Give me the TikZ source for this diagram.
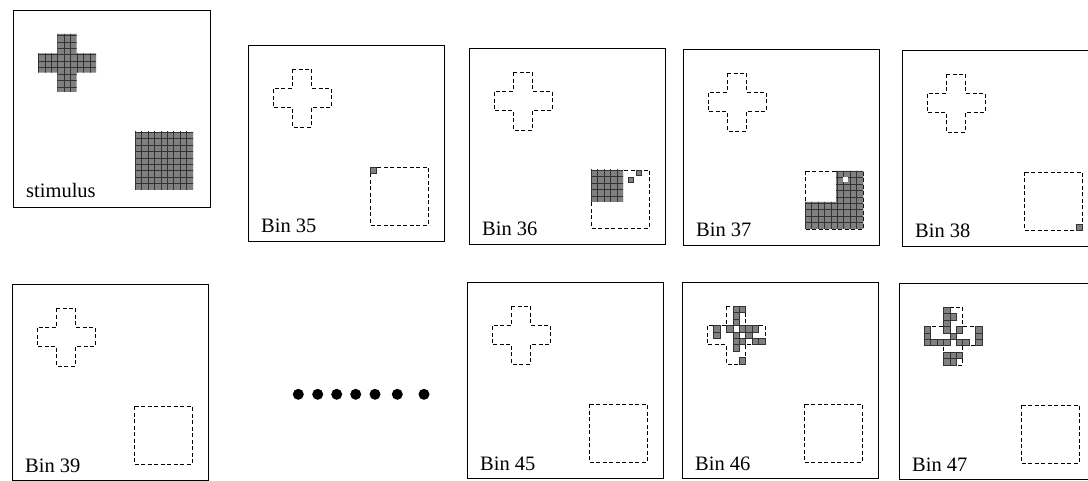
\documentclass[tikz,border=0pt]{standalone}
\usepackage{fontspec}
\setmainfont{Liberation Serif}
\usetikzlibrary{calc}
\definecolor{cellGray}{gray}{0.5}
\newcommand{\cellsize}{6.444}

\tikzset{
    panel/.style={draw, line width=0.9pt, minimum size=196pt, inner sep=0pt},
    binlabel/.style={anchor=base west, inner sep=0pt, font=\fontsize{20.5}{24}\selectfont},
    outline/.style={draw, line width=0.8pt, dash pattern=on 4pt off 2.5pt},
    texture/.style={fill=cellGray, path picture={
        \foreach \g in {-17,...,10} {
            \draw[black!80, line width=0.45pt] ({122+\g*\cellsize}, 0) -- ({122+\g*\cellsize}, 200);
            \draw[black!80, line width=0.45pt] (0, {122+\g*\cellsize}) -- (200, {122+\g*\cellsize});
        }}},
    cell/.style={fill=cellGray, draw=black!80, line width=0.5pt},
    dot/.style={circle, fill=black, inner sep=0pt, minimum size=11pt},
    crossout/.pic={
        \draw[outline] (44.3,24) -- (63.7,24) -- (63.7,43.3) -- (83,43.3) -- (83,62.7) -- (63.7,62.7)
            -- (63.7,82) -- (44.3,82) -- (44.3,62.7) -- (25,62.7) -- (25,43.3) -- (44.3,43.3) -- cycle;
    },
    squareout/.pic={
        \draw[outline] (122,122) rectangle (180,180);
    }
}

\begin{document}
\begin{tikzpicture}[x=1pt, y=-1pt]
    \useasboundingbox (0,0) rectangle (1088,481);

    % stimulus
    \node[panel, minimum size=197pt] (stim) at (111.5,108.5) {};
    \node[binlabel] (stim-label) at (26,198) {stimulus};
    \begin{scope}[shift={(13,10)}]
        \fill[texture] (44.3,24) -- (63.7,24) -- (63.7,43.3) -- (83,43.3) -- (83,62.7) -- (63.7,62.7)
            -- (63.7,82) -- (44.3,82) -- (44.3,62.7) -- (25,62.7) -- (25,43.3) -- (44.3,43.3) -- cycle;
        \fill[texture] (122,122) rectangle (180,180);
    \end{scope}

    % bins
    \foreach \nm/\px/\py/\txt in {b35/248/45/Bin 35, b36/469/48/Bin 36, b37/683/49/Bin 37,
                                  b38/902/50/Bin 38, b39/12/284/Bin 39, b45/467/282/Bin 45,
                                  b46/682/282/Bin 46, b47/899/283/Bin 47} {
        \node[panel] (\nm) at ({\px+98},{\py+98}) {};
        \node[binlabel] (\nm-label) at ({\px+13},{\py+188}) {\txt};
        \pic at (\px,\py) {crossout};
        \pic at (\px,\py) {squareout};
    }

    % responses
    \begin{scope}[shift={(248,45)}]
        \fill[cell] (122,122) rectangle ++(6,6);
    \end{scope}
    \begin{scope}[shift={(469,48)}]
        \fill[texture] (122,122) rectangle (154,154);
        \fill[cell] (159,129) rectangle ++(5,5);
        \fill[cell] (167,122) rectangle ++(5,5);
    \end{scope}
    \begin{scope}[shift={(683,49)}]
        \fill[texture] (153,122) -- (180,122) -- (180,180) -- (122,180) -- (122,153) -- (153,153) -- cycle;
        \fill[white] (160,128) rectangle ++(5,5);
    \end{scope}
    \begin{scope}[shift={(902,50)}]
        \fill[cell] (174,174) rectangle ++(6,6);
    \end{scope}
    \begin{scope}[shift={(682,282)}]
        \foreach \i/\j in {4/0, 5/0, 4/1, 1/3, 1/4, 4/2, 3/3, 5/3, 6/3, 7/3, 6/4, 4/4,
                           4/5, 5/5, 4/6, 7/5, 8/5, 5/8}
            \fill[cell] ({25+\i*\cellsize},{24+\j*\cellsize}) rectangle ++(\cellsize,\cellsize);
    \end{scope}
    \begin{scope}[shift={(899,283)}]
        \foreach \i/\j in {3/0, 3/1, 4/1, 3/2, 3/3, 5/3, 4/4, 0/3, 0/4, 0/5, 1/5, 2/5, 3/5,
                           8/3, 8/4, 5/5, 6/5, 8/5, 3/7, 4/7, 5/7, 3/8, 4/8}
            \fill[cell] ({25+\i*\cellsize},{24+\j*\cellsize}) rectangle ++(\cellsize,\cellsize);
    \end{scope}

    % ellipsis
    \foreach \x [count=\k] in {298.3, 317.7, 336.7, 355.7, 375, 397.3, 424}
        \node[dot] (dot\k) at (\x,394.3) {};
\end{tikzpicture}
\end{document}
